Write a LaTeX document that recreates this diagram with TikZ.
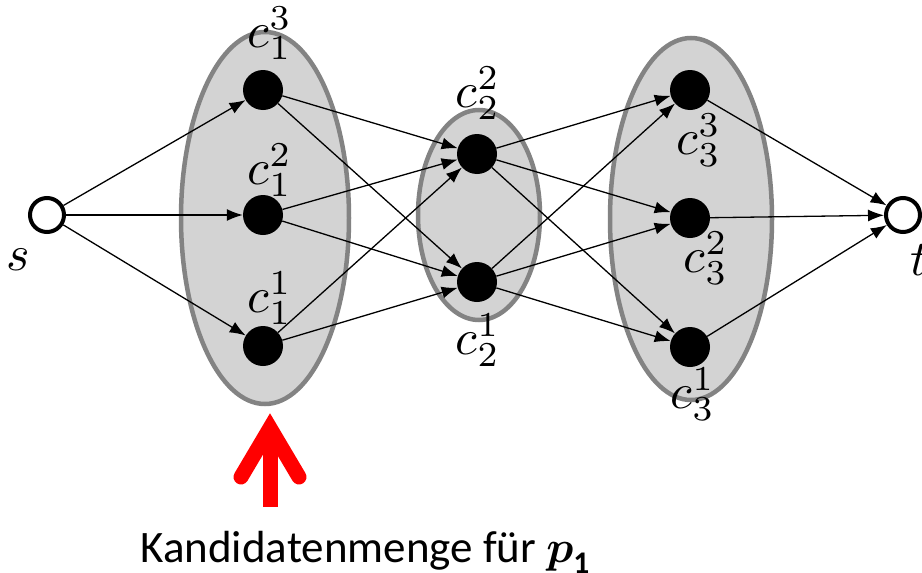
\documentclass[tikz,border=0pt]{standalone}
\usepackage{amsmath}
\usepackage{fontspec}
\setmainfont{Carlito}
\usetikzlibrary{arrows.meta,shapes.geometric}
\definecolor{grpfill}{HTML}{D3D3D3}
\definecolor{grpdraw}{HTML}{838383}
\tikzset{
  grp/.style={ellipse, draw=grpdraw, fill=grpfill, line width=4.5pt, inner sep=0pt},
  vtx/.style={circle, fill=black, minimum size=40pt, inner sep=0pt},
  term/.style={circle, draw=black, fill=white, line width=4pt, minimum size=34pt, inner sep=0pt},
  edge/.style={-{Latex[length=16pt,width=12pt]}, line width=1.3pt},
  lab/.style={scale=5, inner sep=0pt},
  caption/.style={scale=4.5, inner sep=0pt}
}
\begin{document}
\begin{tikzpicture}[x=1pt,y=-1pt]
\useasboundingbox (0,0) rectangle (922,573);
% groups
\node[grp, minimum width=168pt, minimum height=372pt] (g1) at (265,218) {};
\node[grp, minimum width=122pt, minimum height=210pt] (g2) at (479,215) {};
\node[grp, minimum width=162pt, minimum height=362pt] (g3) at (691,219) {};
% vertices
\node[term] (s) at (47,215) {};
\node[term] (t) at (903,215) {};
\node[vtx] (a3) at (263,90) {};
\node[vtx] (a2) at (263,215) {};
\node[vtx] (a1) at (263,346) {};
\node[vtx] (b2) at (477,154) {};
\node[vtx] (b1) at (477,282) {};
\node[vtx] (d3) at (690,90) {};
\node[vtx] (d2) at (690,218) {};
\node[vtx] (d1) at (690,347) {};
% labels
\node[lab] (ls) at (18,260) {$s$};
\node[lab] (lt) at (920,260) {$t$};
\node[lab] (la3) at (270,33) {$c_1^3$};
\node[lab] (la2) at (270,170) {$c_1^2$};
\node[lab] (la1) at (270,298) {$c_1^1$};
\node[lab] (lb2) at (478,93) {$c_2^2$};
\node[lab] (lb1) at (478,340) {$c_2^1$};
\node[lab] (ld3) at (699,140) {$c_3^3$};
\node[lab] (ld2) at (706,258) {$c_3^2$};
\node[lab] (ld1) at (693,394) {$c_3^1$};
% edges
\foreach \x in {a1,a2,a3} \draw[edge] (s) -- (\x);
\foreach \x in {a1,a2,a3} \foreach \y in {b1,b2} \draw[edge] (\x) -- (\y);
\foreach \x in {b1,b2} \foreach \y in {d1,d2,d3} \draw[edge] (\x) -- (\y);
\foreach \x in {d1,d2,d3} \draw[edge] (\x) -- (t);
% red arrow
\draw[red, line width=15pt, line cap=round, line join=miter, miter limit=10] (241,477) -- (270,428) -- (299,477);
\draw[red, line width=15pt] (270,432) -- (270,507);
% caption
\node[caption, anchor=base] (cap) at (366,562) {Kandidatenmenge für $\boldsymbol{p}_{\mathbf{1}}$};
\end{tikzpicture}
\end{document}
